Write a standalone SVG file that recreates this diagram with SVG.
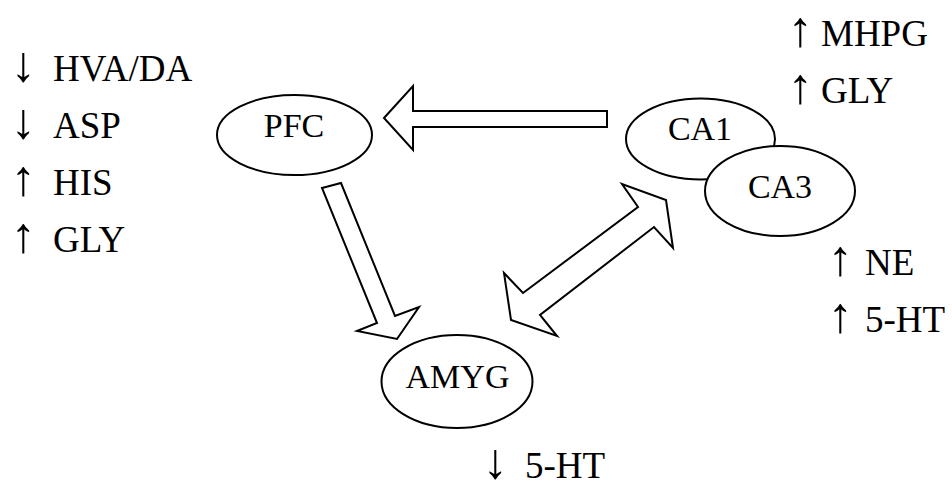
<svg xmlns="http://www.w3.org/2000/svg" width="952" height="492" viewBox="0 0 952 492">
  <style>
    .region ellipse { fill: #ffffff; stroke: #000000; stroke-width: 2; }
    .region text { font-family: "Liberation Serif", "Times New Roman", serif; font-size: 34px; fill: #000000; text-anchor: middle; }
    .note { font-family: "Liberation Serif", "Times New Roman", serif; font-size: 37px; fill: #000000; }
    .dir { font-family: "Liberation Serif", "Times New Roman", serif; font-size: 50px; fill: #000000; }
    .flow { fill: #ffffff; stroke: #000000; stroke-width: 2; stroke-linejoin: miter; }
  </style>
  <rect width="952" height="492" fill="#ffffff"/>

  <!-- block arrows between regions -->
  <g id="connectors">
    <!-- CA1 to PFC -->
    <polygon class="flow" points="384,118 413,86 413,111 607,111 607,127 413,127 413,150"/>
    <!-- PFC to AMYG -->
    <polygon class="flow" points="322,188 341,183 395,316 419,307 397,339 357,331 377,323"/>
    <!-- AMYG and CA3, both ways -->
    <polygon class="flow" points="523,293 638,207 622,184 666,200 673,248 654,227 540,315 557,336 511,320 504,273"/>
  </g>

  <g id="node-pfc" class="region">
    <ellipse cx="294.5" cy="135" rx="77.5" ry="40"/>
    <text x="294" y="137">PFC</text>
  </g>

  <g id="node-ca1" class="region">
    <ellipse cx="700.5" cy="139" rx="74.5" ry="40.5"/>
    <text x="700" y="140">CA1</text>
  </g>

  <g id="node-ca3" class="region">
    <ellipse cx="780" cy="191" rx="75" ry="45"/>
    <text x="780" y="198">CA3</text>
  </g>

  <g id="node-amyg" class="region">
    <ellipse cx="457" cy="381.5" rx="75.5" ry="46.5"/>
    <text x="457.5" y="388">AMYG</text>
  </g>

  <!-- change annotations: direction glyph, then the measured substance -->
  <g id="notes-pfc">
    <text class="dir" x="11" y="81">↓</text>
    <text class="note" x="53" y="81" font-family="Liberation Serif, serif">HVA/DA</text>
    <text class="dir" x="11" y="138">↓</text>
    <text class="note" x="53" y="138" font-family="Liberation Serif, serif">ASP</text>
    <text class="dir" x="11" y="195">↑</text>
    <text class="note" x="53" y="195" font-family="Liberation Serif, serif">HIS</text>
    <text class="dir" x="11" y="252">↑</text>
    <text class="note" x="53" y="252" font-family="Liberation Serif, serif">GLY</text>
  </g>

  <g id="notes-ca1">
    <text class="dir" x="788" y="46">↑</text>
    <text class="note" x="821" y="46" font-family="Liberation Serif, serif">MHPG</text>
    <text class="dir" x="788" y="103">↑</text>
    <text class="note" x="821" y="103" font-family="Liberation Serif, serif">GLY</text>
  </g>

  <g id="notes-ca3">
    <text class="dir" x="828" y="275">↑</text>
    <text class="note" x="865" y="275" font-family="Liberation Serif, serif">NE</text>
    <text class="dir" x="828" y="332">↑</text>
    <text class="note" x="865" y="332" font-family="Liberation Serif, serif">5-HT</text>
  </g>

  <g id="notes-amyg">
    <text class="dir" x="483" y="478">↓</text>
    <text class="note" x="525" y="478" font-family="Liberation Serif, serif">5-HT</text>
  </g>
</svg>
